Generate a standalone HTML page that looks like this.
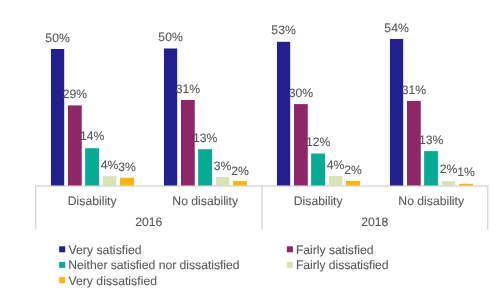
<!DOCTYPE html><html><head><meta charset="utf-8"><style>html,body{margin:0;padding:0;background:#fff;width:500px;height:290px;overflow:hidden}svg{display:block}text{font-family:"Liberation Sans",sans-serif;fill:#595959;stroke:#595959;stroke-width:0.1px}</style></head><body>
<svg width="500" height="290" viewBox="0 0 500 290">
<defs><filter id="tb" x="0" y="0" width="500" height="290" filterUnits="userSpaceOnUse"><feGaussianBlur stdDeviation="0.3"/></filter></defs>
<g stroke="#d9d9d9" stroke-width="1.5" fill="none">
<line x1="35.00" y1="185.90" x2="488.40" y2="185.90"/>
<line x1="35.65" y1="185.50" x2="35.65" y2="229.80"/>
<line x1="261.90" y1="185.50" x2="261.90" y2="229.80"/>
<line x1="487.70" y1="185.50" x2="487.70" y2="229.80"/>
</g>
<rect x="50.95" y="49.00" width="13.25" height="136.50" fill="#22208e"/>
<rect x="68.00" y="105.40" width="13.75" height="80.10" fill="#8f2668"/>
<rect x="85.14" y="148.20" width="13.95" height="37.30" fill="#05ab95"/>
<rect x="102.84" y="176.20" width="13.50" height="9.30" fill="#d6e4b5"/>
<rect x="120.03" y="177.80" width="14.00" height="7.70" fill="#ffb400"/>
<rect x="163.95" y="48.50" width="13.25" height="137.00" fill="#22208e"/>
<rect x="181.00" y="100.00" width="13.75" height="85.50" fill="#8f2668"/>
<rect x="198.13" y="149.20" width="13.95" height="36.30" fill="#05ab95"/>
<rect x="215.84" y="177.00" width="13.50" height="8.50" fill="#d6e4b5"/>
<rect x="233.03" y="181.10" width="14.00" height="4.40" fill="#ffb400"/>
<rect x="276.95" y="41.80" width="13.25" height="143.70" fill="#22208e"/>
<rect x="294.00" y="104.10" width="13.75" height="81.40" fill="#8f2668"/>
<rect x="311.13" y="153.50" width="13.95" height="32.00" fill="#05ab95"/>
<rect x="328.84" y="176.00" width="13.50" height="9.50" fill="#d6e4b5"/>
<rect x="346.03" y="180.90" width="14.00" height="4.60" fill="#ffb400"/>
<rect x="389.95" y="39.00" width="13.25" height="146.50" fill="#22208e"/>
<rect x="407.00" y="100.90" width="13.75" height="84.60" fill="#8f2668"/>
<rect x="424.13" y="151.10" width="13.95" height="34.40" fill="#05ab95"/>
<rect x="441.84" y="181.20" width="13.50" height="4.30" fill="#d6e4b5"/>
<rect x="459.03" y="183.80" width="14.00" height="1.70" fill="#ffb400"/>
<g filter="url(#tb)"><g font-size="12.2" text-anchor="middle">
<text x="57.54" y="41.70" transform="skewX(0.05)">50%</text>
<text x="74.79" y="97.60" transform="skewX(0.05)">29%</text>
<text x="91.99" y="140.40" transform="skewX(0.05)">14%</text>
<text x="109.44" y="168.85" transform="skewX(0.05)">4%</text>
<text x="126.88" y="170.70" transform="skewX(0.05)">3%</text>
<text x="170.54" y="40.80" transform="skewX(0.05)">50%</text>
<text x="187.80" y="93.15" transform="skewX(0.05)">31%</text>
<text x="204.99" y="141.60" transform="skewX(0.05)">13%</text>
<text x="222.44" y="170.20" transform="skewX(0.05)">3%</text>
<text x="239.88" y="174.60" transform="skewX(0.05)">2%</text>
<text x="283.55" y="34.35" transform="skewX(0.05)">53%</text>
<text x="300.80" y="97.20" transform="skewX(0.05)">30%</text>
<text x="317.98" y="146.30" transform="skewX(0.05)">12%</text>
<text x="335.44" y="169.10" transform="skewX(0.05)">4%</text>
<text x="352.88" y="174.00" transform="skewX(0.05)">2%</text>
<text x="396.55" y="31.70" transform="skewX(0.05)">54%</text>
<text x="413.80" y="94.20" transform="skewX(0.05)">31%</text>
<text x="430.98" y="144.40" transform="skewX(0.05)">13%</text>
<text x="448.44" y="173.30" transform="skewX(0.05)">2%</text>
<text x="465.88" y="176.20" transform="skewX(0.05)">1%</text>
<text x="92.02" y="204.90" transform="skewX(0.05)">Disability</text>
<text x="205.02" y="204.90" transform="skewX(0.05)">No disability</text>
<text x="318.02" y="204.90" transform="skewX(0.05)">Disability</text>
<text x="431.02" y="204.90" transform="skewX(0.05)">No disability</text>
<text x="148.50" y="226.50" transform="skewX(0.05)">2016</text>
<text x="374.50" y="226.50" transform="skewX(0.05)">2018</text>
</g>
<g font-size="12.2">
<text x="68.22" y="253.70" transform="skewX(0.05)" textLength="73.14" lengthAdjust="spacing">Very satisfied</text>
<text x="295.68" y="253.80" transform="skewX(0.05)" textLength="77.59" lengthAdjust="spacing">Fairly satisfied</text>
<text x="68.06" y="269.10" transform="skewX(0.05)" textLength="171.29" lengthAdjust="spacing">Neither satisfied nor dissatisfied</text>
<text x="295.66" y="269.10" transform="skewX(0.05)" textLength="92.69" lengthAdjust="spacing">Fairly dissatisfied</text>
<text x="68.20" y="284.80" transform="skewX(0.05)" textLength="88.54" lengthAdjust="spacing">Very dissatisfied</text>
</g></g>
<rect x="59.20" y="246.30" width="6" height="6" fill="#22208e"/>
<rect x="286.90" y="246.30" width="6" height="6" fill="#8f2668"/>
<rect x="59.20" y="261.90" width="6" height="6" fill="#05ab95"/>
<rect x="286.90" y="261.90" width="6" height="6" fill="#d6e4b5"/>
<rect x="59.20" y="277.20" width="6" height="6" fill="#ffb400"/>
</svg></body></html>
